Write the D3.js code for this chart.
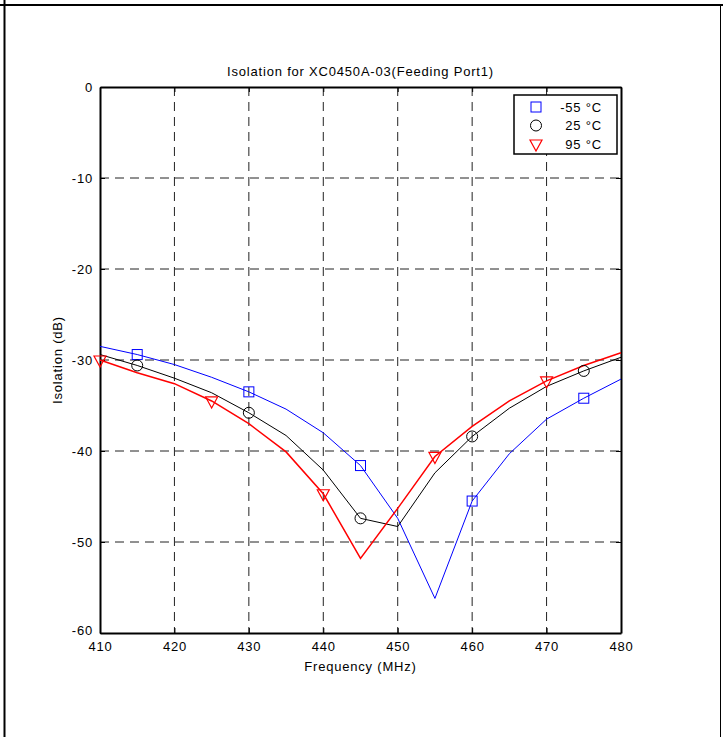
<!DOCTYPE html>
<html>
<head>
<meta charset="utf-8">
<script src="https://d3js.org/d3.v7.min.js"></script>
<style>
  body { margin: 0; background: #fff; }
  text { font-family: "Liberation Sans", Arial, sans-serif; letter-spacing: 0.8px; }
</style>
</head>
<body>
<script>
var width = 723;
var height = 737;
var margin = {top: 87, right: 102, bottom: 104, left: 100};
var w = width - margin.left - margin.right;
var h = height - margin.top - margin.bottom;

// frequency points (MHz)
var freqs = [410, 415, 420, 425, 430, 435, 440, 445, 450, 455, 460, 465, 470, 475, 480];
// isolation (dB) per temperature
var isoM55 = [-28.5, -29.4, -30.5, -31.9, -33.5, -35.4, -38.0, -41.6, -47.4, -56.2, -45.5, -40.3, -36.5, -34.2, -32.1];
var iso25  = [-29.4, -30.6, -32.0, -33.6, -35.8, -38.3, -42.1, -47.4, -48.3, -42.4, -38.4, -35.3, -32.9, -31.2, -29.7];
var iso95  = [-30.0, -31.4, -32.6, -34.5, -37.0, -40.1, -44.7, -51.8, -46.3, -40.6, -37.3, -34.5, -32.3, -30.6, -29.2];
var xTicks = [410, 420, 430, 440, 450, 460, 470, 480];
var yTicks = [0, -10, -20, -30, -40, -50, -60];
var seriesNames = ["-55 \u00B0C", "25 \u00B0C", "95 \u00B0C"];

var series = [
  {name: seriesNames[0], values: isoM55, color: "#0000ff", width: 1, marker: "square", start: 1},
  {name: seriesNames[1], values: iso25, color: "#000000", width: 1, marker: "circle", start: 1},
  {name: seriesNames[2], values: iso95, color: "#ff0000", width: 1.5, marker: "triangle", start: 0}
];

var svg = d3.select("body").append("svg")
  .attr("width", width)
  .attr("height", height);

// outer frame
svg.append("line").attr("x1", 0).attr("x2", width).attr("y1", 5).attr("y2", 5)
  .attr("stroke", "#000").attr("stroke-width", 2);
svg.append("line").attr("x1", 4.5).attr("x2", 4.5).attr("y1", 0).attr("y2", height)
  .attr("stroke", "#000").attr("stroke-width", 2);
svg.append("line").attr("x1", 720.5).attr("x2", 720.5).attr("y1", 5).attr("y2", height)
  .attr("stroke", "#000").attr("stroke-width", 1);

var g = svg.append("g")
  .attr("transform", "translate(" + margin.left + "," + margin.top + ")");

var x = d3.scaleLinear().domain([410, 480]).range([0, w]);
var y = d3.scaleLinear().domain([-60, 0]).range([h, 0]);

// grid
g.selectAll(".vgrid")
  .data(xTicks.slice(1, -1))
  .enter().append("line")
  .attr("class", "vgrid")
  .attr("x1", function(d) { return x(d); })
  .attr("x2", function(d) { return x(d); })
  .attr("y1", 0).attr("y2", h)
  .attr("stroke", "#222").attr("stroke-width", 1)
  .attr("stroke-dasharray", "9,6");
g.selectAll(".hgrid")
  .data(yTicks.slice(1, -1))
  .enter().append("line")
  .attr("class", "hgrid")
  .attr("x1", 0).attr("x2", w)
  .attr("y1", function(d) { return y(d); })
  .attr("y2", function(d) { return y(d); })
  .attr("stroke", "#222").attr("stroke-width", 1)
  .attr("stroke-dasharray", "9,6");

// axes (ticks inward, all four sides)
var fs = "13px";
var plain = function(d) { return String(d); };
var xAxis = g.append("g")
  .attr("transform", "translate(0," + h + ")")
  .call(d3.axisBottom(x).tickValues(xTicks).tickFormat(plain).tickSizeInner(-5).tickSizeOuter(0).tickPadding(10));
g.append("g")
  .call(d3.axisTop(x).tickValues(xTicks).tickSizeInner(-5).tickSizeOuter(0).tickFormat(""));
var yAxis = g.append("g")
  .call(d3.axisLeft(y).tickValues(yTicks).tickFormat(plain).tickSizeInner(-5).tickSizeOuter(0).tickPadding(7));
g.append("g")
  .attr("transform", "translate(" + w + ",0)")
  .call(d3.axisRight(y).tickValues(yTicks).tickSizeInner(-5).tickSizeOuter(0).tickFormat(""));

g.selectAll(".domain").attr("stroke", "#000").attr("stroke-width", 2);
g.selectAll(".tick line").attr("stroke", "#000");
g.selectAll(".tick text").attr("fill", "#000").style("font-size", fs);
xAxis.selectAll(".tick text").attr("dy", "0.6em");
yAxis.selectAll(".tick text").filter(function(d) { return d === -60; }).attr("dy", "0.1em");

// lines
var line = d3.line()
  .x(function(d, i) { return x(freqs[i]); })
  .y(function(d) { return y(d); });

series.forEach(function(s) {
  g.append("path")
    .datum(s.values)
    .attr("fill", "none")
    .attr("stroke", s.color)
    .attr("stroke-width", s.width)
    .attr("d", line);
});

function drawMarker(sel, type, color, cx, cy) {
  if (type === "square") {
    sel.append("rect").attr("x", cx - 5).attr("y", cy - 5).attr("width", 10).attr("height", 10)
      .attr("fill", "none").attr("stroke", color).attr("stroke-width", 1);
  } else if (type === "circle") {
    sel.append("circle").attr("cx", cx).attr("cy", cy).attr("r", 5.5)
      .attr("fill", "none").attr("stroke", color).attr("stroke-width", 1);
  } else {
    sel.append("path")
      .attr("d", "M" + (cx - 6) + "," + (cy - 4) + "L" + (cx + 6) + "," + (cy - 4) + "L" + cx + "," + (cy + 7) + "Z")
      .attr("fill", "none").attr("stroke", color).attr("stroke-width", 1.2);
  }
}

// markers every third point
series.forEach(function(s) {
  var mg = g.append("g");
  s.values.forEach(function(v, i) {
    if (i >= s.start && (i - s.start) % 3 === 0) {
      drawMarker(mg, s.marker, s.color, x(freqs[i]), y(v));
    }
  });
});

// legend
var lg = svg.append("g").attr("transform", "translate(514,95)");
lg.append("rect").attr("width", 103).attr("height", 59)
  .attr("fill", "#fff").attr("stroke", "#000").attr("stroke-width", 1.5);
series.forEach(function(s, i) {
  var yy = 12 + i * 18.5;
  drawMarker(lg, s.marker, s.color, 22, yy);
  lg.append("text")
    .attr("x", 88).attr("y", yy).attr("dy", "0.35em")
    .attr("text-anchor", "end")
    .style("font-size", fs)
    .text(s.name);
});

// title and axis labels
svg.append("text")
  .attr("x", margin.left + w / 2).attr("y", 76)
  .attr("text-anchor", "middle")
  .style("font-size", "13px")
  .text("Isolation for XC0450A-03(Feeding Port1)");
svg.append("text")
  .attr("x", margin.left + w / 2).attr("y", 671)
  .attr("text-anchor", "middle")
  .style("font-size", "13px")
  .text("Frequency (MHz)");
svg.append("text")
  .attr("transform", "translate(62," + (margin.top + h / 2) + ") rotate(-90)")
  .attr("text-anchor", "middle")
  .style("font-size", "13px")
  .text("Isolation (dB)");
</script>
</body>
</html>
